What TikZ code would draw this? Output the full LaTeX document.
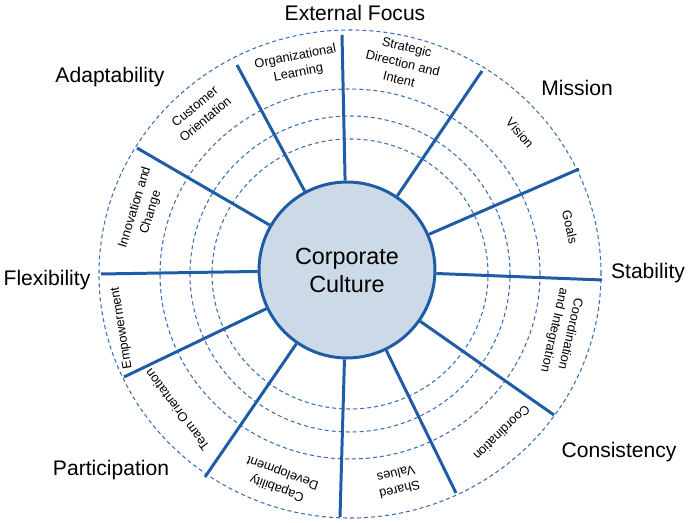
\documentclass[tikz,border=0pt]{standalone}
\usepackage{fontspec}
\setmainfont{Liberation Sans}
\definecolor{cultblue}{RGB}{31,92,168}
\definecolor{ringblue}{RGB}{60,110,180}
\definecolor{corefill}{RGB}{204,217,230}
\begin{document}
\begin{tikzpicture}[x=0.02cm, y=0.02cm,
  spoke/.style={draw=cultblue, line width=1.7pt},
  ring/.style={draw=ringblue, line width=0.6pt, dash pattern=on 2.3pt off 1.7pt},
  trait/.style={font=\fontsize{12}{14}\selectfont},
  facet/.style={font=\fontsize{7.3}{9.4}\selectfont, align=center, inner sep=0pt}]
\useasboundingbox (-350,-249) rectangle (346,274);
% dashed rings
\draw[ring] (0,0) ellipse [x radius=138, y radius=135];
\draw[ring] (0,0) ellipse [x radius=160, y radius=158];
\draw[ring] (0,0) ellipse [x radius=190, y radius=185];
\draw[ring] (0,0) ellipse [x radius=251, y radius=244];
\node[circle, draw=cultblue, fill=corefill, line width=1.7pt, minimum size=3.52cm,
  align=center, font=\fontsize{13.3}{15.9}\selectfont] (core) at (-3,4) {Corporate\\Culture};
% spoke ends on the outer ring
\coordinate (o1) at (-8,239);
\coordinate (o2) at (-113,209);
\coordinate (o3) at (132,203);
\coordinate (o4) at (-213,126);
\coordinate (o5) at (-249,0);
\coordinate (o6) at (-226,-103);
\coordinate (o7) at (-145,-203);
\coordinate (o8) at (-10,-243);
\coordinate (o9) at (106,-219);
\coordinate (o10) at (204,-141);
\coordinate (o11) at (252,-6);
\coordinate (o12) at (229,105);
\draw[spoke] (core) -- (o1);
\draw[spoke] (core) -- (o2);
\draw[spoke] (core) -- (o3);
\draw[spoke] (core) -- (o4);
\draw[spoke] (core) -- (o5);
\draw[spoke] (core) -- (o6);
\draw[spoke] (core) -- (o7);
\draw[spoke] (core) -- (o8);
\draw[spoke] (core) -- (o9);
\draw[spoke] (core) -- (o10);
\draw[spoke] (core) -- (o11);
\draw[spoke] (core) -- (o12);
% traits
\node[trait] (extfocus) at (5,261) {External Focus};
\node[trait] (adapt) at (-240,197) {Adaptability};
\node[trait] (mission) at (227,186) {Mission};
\node[trait] (stab) at (298,1) {Stability};
\node[trait] (flex) at (-303,-6) {Flexibility};
\node[trait] (consist) at (269,-178) {Consistency};
\node[trait] (partic) at (-239,-196) {Participation};
% facets
\node[facet, rotate=11] (orglearn) at (-53,209) {Organizational\\Learning};
\node[facet, rotate=-14] (strategic) at (53,211) {Strategic\\Direction and\\Intent};
\node[facet, rotate=-49] (vision) at (170,141) {Vision};
\node[facet, rotate=-77] (goals) at (220,47) {Goals};
\node[facet, rotate=-103] (coordint) at (212,-58) {Coordination\\and Integration};
\node[facet, rotate=-136] (coord) at (152,-159) {Coordination};
\node[facet, rotate=-167] (shared) at (48,-208) {Shared\\Values};
\node[facet, rotate=160] (capab) at (-70,-206) {Capability\\Development};
\node[facet, rotate=127] (team) at (-173,-136) {Team Orientation};
\node[facet, rotate=99] (empower) at (-228,-54) {Empowerment};
\node[facet, rotate=73] (innov) at (-207,64) {Innovation and\\Change};
\node[facet, rotate=40] (customer) at (-150,161) {Customer\\Orientation};
\end{tikzpicture}
\end{document}
